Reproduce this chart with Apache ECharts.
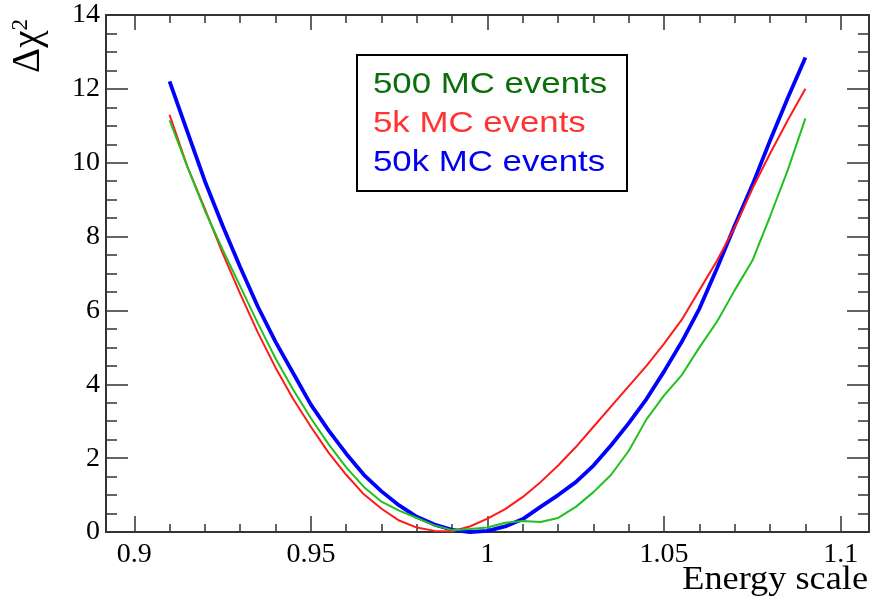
<!DOCTYPE html>
<html>
<head>
<meta charset="utf-8">
<script src="https://cdn.jsdelivr.net/npm/echarts@6/dist/echarts.min.js"></script>
<style>
html,body{margin:0;padding:0;background:#fff;}
#chart{width:871px;height:602px;}
</style>
</head>
<body>
<div id="chart"></div>
<script>
// energy scale points, shared by the three curves
var energyScale = [0.910, 0.915, 0.920, 0.925, 0.930, 0.935, 0.940, 0.945, 0.950, 0.955,
	0.960, 0.965, 0.970, 0.975, 0.980, 0.985, 0.990, 0.995, 1.000, 1.005,
	1.010, 1.015, 1.020, 1.025, 1.030, 1.035, 1.040, 1.045, 1.050, 1.055,
	1.060, 1.065, 1.070, 1.075, 1.080, 1.085, 1.090];
// delta chi2, 500 MC events
var chi500 = [11.15, 9.9, 8.7, 7.65, 6.65, 5.65, 4.7, 3.85, 3.08, 2.38,
	1.75, 1.22, 0.82, 0.58, 0.38, 0.18, 0.05, 0.08, 0.12, 0.25,
	0.3, 0.27, 0.38, 0.68, 1.08, 1.55, 2.2, 3.05, 3.7, 4.25,
	5.0, 5.7, 6.55, 7.35, 8.55, 9.8, 11.2];
// delta chi2, 5k MC events
var chi5k = [11.3, 9.9, 8.75, 7.55, 6.45, 5.4, 4.45, 3.6, 2.85, 2.15,
	1.55, 1.02, 0.63, 0.31, 0.12, 0.03, 0.02, 0.15, 0.36, 0.62,
	0.95, 1.35, 1.8, 2.3, 2.85, 3.4, 3.95, 4.5, 5.1, 5.75,
	6.55, 7.35, 8.25, 9.3, 10.25, 11.15, 12.0];
// delta chi2, 50k MC events
var chi50k = [12.2, 10.85, 9.5, 8.3, 7.17, 6.1, 5.15, 4.3, 3.45, 2.75,
	2.12, 1.55, 1.1, 0.72, 0.41, 0.2, 0.06, 0.0, 0.03, 0.15,
	0.35, 0.68, 1.0, 1.35, 1.8, 2.35, 2.95, 3.6, 4.35, 5.15,
	6.05, 7.15, 8.3, 9.4, 10.6, 11.75, 12.85];
var seriesNames = ['500 MC events', '5k MC events', '50k MC events'];
var xMajorTicks = [0.9, 0.95, 1, 1.05, 1.1];
var xMinorTicks = [0.9, 0.91, 0.92, 0.93, 0.94, 0.95, 0.96, 0.97, 0.98, 0.99, 1,
	1.01, 1.02, 1.03, 1.04, 1.05, 1.06, 1.07, 1.08, 1.09, 1.1];

var lineColors = ['#1fc11f', '#ff1a1a', '#0000ff'];
var textColors = ['#0a6e0a', '#ff3333', '#0000f0'];
var axisColor = '#333';
var serif = '"Liberation Serif", "Times New Roman", serif';
var sans = '"Liberation Sans", Arial, sans-serif';

function toPairs(vals){
	var out = [];
	for(var i = 0; i < energyScale.length; i++){
		out.push([energyScale[i], vals[i]]);
	}
	return out;
}

var gridBox = {left:106, top:15, right:2, bottom:70};
var xRange = {min:0.892, max:1.108};

function frameX(gridIndex, pos, ticks, len, showLine, showLabel){
	return {
		type:'value', gridIndex:gridIndex, position:pos,
		min:xRange.min, max:xRange.max,
		axisLine:{show:showLine, onZero:false, lineStyle:{color:axisColor, width:2}},
		axisTick:{show:true, inside:true, length:len, customValues:ticks,
			lineStyle:{color:axisColor, width:1.5}},
		axisLabel:{show:showLabel, customValues:ticks, margin:9,
			fontFamily:serif, fontSize:28, color:'#000'},
		splitLine:{show:false}
	};
}
function frameY(pos, showLabel){
	return {
		type:'value', gridIndex:0, position:pos,
		min:0, max:14, interval:2,
		axisLine:{show:true, onZero:false, lineStyle:{color:axisColor, width:2}},
		axisTick:{show:true, inside:true, length:22, lineStyle:{color:axisColor, width:1.5}},
		minorTick:{show:true, splitNumber:4, length:11, lineStyle:{color:axisColor, width:1.5}},
		axisLabel:{show:showLabel, margin:6, padding:[4,0,0,0],
			fontFamily:serif, fontSize:28, color:'#000'},
		splitLine:{show:false}
	};
}

var chart = echarts.init(document.getElementById('chart'), null, {renderer:'canvas'});
chart.setOption({
	animation:false,
	backgroundColor:'#fff',
	grid:[
		Object.assign({containLabel:false}, gridBox),
		Object.assign({containLabel:false}, gridBox)
	],
	xAxis:[
		frameX(0, 'bottom', xMajorTicks, 16, true, true),
		frameX(0, 'top', xMajorTicks, 15, true, false),
		frameX(1, 'bottom', xMinorTicks, 8, false, false),
		frameX(1, 'top', xMinorTicks, 8, false, false)
	],
	yAxis:[
		frameY('left', true),
		frameY('right', false),
		{type:'value', gridIndex:1, show:false, min:0, max:14, splitLine:{show:false}}
	],
	series:[
		{name:seriesNames[2], type:'line', xAxisIndex:0, yAxisIndex:0, data:toPairs(chi50k),
			showSymbol:false, lineStyle:{color:lineColors[2], width:3.8}, z:2},
		{name:seriesNames[1], type:'line', xAxisIndex:0, yAxisIndex:0, data:toPairs(chi5k),
			showSymbol:false, lineStyle:{color:lineColors[1], width:2}, z:3},
		{name:seriesNames[0], type:'line', xAxisIndex:0, yAxisIndex:0, data:toPairs(chi500),
			showSymbol:false, lineStyle:{color:lineColors[0], width:2}, z:4}
	],
	graphic:[
		//图例框
		{type:'rect', shape:{x:357, y:55, width:270, height:136},
			style:{fill:'#fff', stroke:'#000', lineWidth:2}, z:100},
		{type:'text', x:373, y:84.6, scaleX:1.16, z:101,
			style:{text:seriesNames[0], font:'30px ' + sans, fill:textColors[0], textVerticalAlign:'middle'}},
		{type:'text', x:373, y:123.9, scaleX:1.16, z:101,
			style:{text:seriesNames[1], font:'30px ' + sans, fill:textColors[1], textVerticalAlign:'middle'}},
		{type:'text', x:373, y:162.9, scaleX:1.16, z:101,
			style:{text:seriesNames[2], font:'30px ' + sans, fill:textColors[2], textVerticalAlign:'middle'}},
		//坐标轴标题
		{type:'text', x:868, y:580.6, scaleX:1.1, z:101,
			style:{text:'Energy scale', font:'33px ' + serif, fill:'#000',
				textAlign:'right', textVerticalAlign:'middle'}},
		{type:'text', x:9, y:19, rotation:Math.PI/2, z:101,
			style:{text:'{a|Δχ}{b|2}', fill:'#000', textAlign:'right', textVerticalAlign:'top',
				rich:{a:{font:'39px ' + serif}, b:{font:'23px ' + serif, verticalAlign:'top'}}}}
	]
});
</script>
</body>
</html>
